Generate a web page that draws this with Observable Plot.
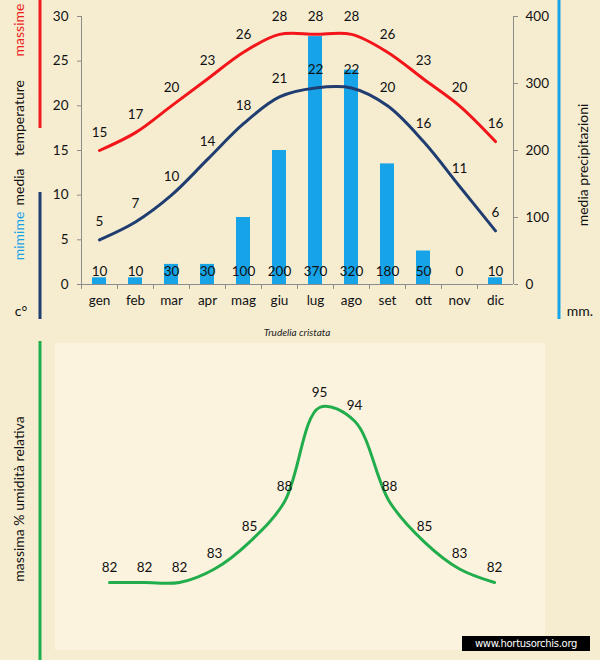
<!DOCTYPE html>
<html><head><meta charset="utf-8">
<script src="https://cdn.jsdelivr.net/npm/d3@7"></script>
<script src="https://cdn.jsdelivr.net/npm/@observablehq/plot@0.6"></script>
<style>
html,body{margin:0;padding:0;background:#f6edd1;}
#wrap{position:relative;width:600px;height:660px;background:#f6edd1;overflow:hidden;font-family:Lato,"Open Sans",sans-serif;}
.abs{position:absolute;left:0;}
</style></head>
<body><div id="wrap"></div>
<script>
const months = ["gen","feb","mar","apr","mag","giu","lug","ago","set","ott","nov","dic"];
const tempMax = [15,17,20,23,26,28,28,28,26,23,20,16];
const tempMin = [5,7,10,14,18,21,22,22,20,16,11,6];
const precip = [10,10,30,30,100,200,370,320,180,50,0,10];
const humidity = [82,82,82,83,85,88,95,94,88,85,83,82];
const tempTicks = [0,5,10,15,20,25,30];
const precipTicks = [0,100,200,300,400];
const title = "Trudelia cristata";

const k = 30/400; // precipitation -> temperature axis
const rows = months.map((m,i)=>({month:m, max:tempMax[i], min:tempMin[i], rain:precip[i], hum:humidity[i]}));
const axisGray = "#8c8c8c";
const wrap = document.getElementById("wrap");

// light inner panel for bottom chart
const panel = document.createElement("div");
panel.style.cssText = "position:absolute;left:55px;top:343px;width:490px;height:307px;background:#fcf3df;";
wrap.appendChild(panel);

const topChart = Plot.plot({
  width:600, height:320,
  marginLeft:81, marginRight:87, marginTop:16, marginBottom:36,
  style:{background:"transparent", fontFamily:"Lato, 'Open Sans', sans-serif", fontSize:"13px", color:"#111", overflow:"visible"},
  x:{type:"band", domain:months, paddingInner:0.6, paddingOuter:0.3},
  y:{domain:[0,30]},
  marks:[
    Plot.barY(rows,{x:"month", y:d=>d.rain*k, fill:"#17a3e8"}),
    Plot.text(rows,{x:"month", y:0, text:"rain", dy:-13, fill:"#111", fontSize:13.5}),
    Plot.line(rows,{x:"month", y:"max", stroke:"#f2151a", strokeWidth:3, curve:"catmull-rom"}),
    Plot.line(rows,{x:"month", y:"min", stroke:"#1f3d70", strokeWidth:3, curve:"catmull-rom"}),
    Plot.text(rows,{x:"month", y:"max", text:"max", dy:-18, fill:"#111", fontSize:13.5}),
    Plot.text(rows,{x:"month", y:"min", text:"min", dy:-18, fill:"#111", fontSize:13.5}),
    Plot.ruleY([0],{stroke:axisGray}),
    Plot.ruleX(["gen"],{dx:-18, y1:0, y2:30, stroke:axisGray}),
    Plot.ruleX(["dic"],{dx:18, y1:0, y2:30, stroke:axisGray}),
    Plot.ruleX(months,{x:d=>d, dx:-18, y1:0, y2:-0.55, stroke:axisGray}),
    Plot.axisY({anchor:"left", ticks:tempTicks, tickSize:4, tickPadding:9, stroke:axisGray, label:null, fontSize:13.5, fill:"#111"}),
    Plot.axisY({anchor:"right", ticks:precipTicks.map(v=>v*k), tickFormat:v=>String(Math.round(v/k)), tickSize:4, tickPadding:8, stroke:axisGray, label:null, fontSize:13.5, fill:"#111"}),
    Plot.axisX({tickSize:0, tickPadding:11, label:null, fontSize:13.5, fill:"#111"})
  ]
});
topChart.classList.add("abs");
topChart.style.top = "0px";
wrap.appendChild(topChart);

const botChart = Plot.plot({
  width:600, height:320,
  marginLeft:106, marginRight:104, marginTop:67, marginBottom:78,
  style:{background:"transparent", fontFamily:"Lato, 'Open Sans', sans-serif", fontSize:"13px", color:"#111", overflow:"visible"},
  x:{type:"point", domain:months, padding:0, axis:null},
  y:{domain:[82,95], axis:null},
  marks:[
    Plot.line(rows,{x:"month", y:"hum", stroke:"#22ad4c", strokeWidth:3, curve:"catmull-rom"}),
    Plot.text(rows,{x:"month", y:"hum", text:"hum", dy:-15, fill:"#111", fontSize:13.5})
  ]
});
botChart.classList.add("abs");
botChart.style.top = "340px";
wrap.appendChild(botChart);

// decorations overlay
const svg = d3.select(wrap).append("svg")
  .attr("width",600).attr("height",660)
  .style("position","absolute").style("left","0").style("top","0")
  .style("pointer-events","none")
  .style("font-family","Lato, 'Open Sans', sans-serif");

svg.append("line").attr("x1",40).attr("x2",40).attr("y1",0).attr("y2",128).attr("stroke","#ee1c1c").attr("stroke-width",3);
svg.append("line").attr("x1",40).attr("x2",40).attr("y1",192).attr("y2",319).attr("stroke","#1f3d70").attr("stroke-width",3);
svg.append("line").attr("x1",559).attr("x2",559).attr("y1",0).attr("y2",319).attr("stroke","#17a3e8").attr("stroke-width",3);
svg.append("line").attr("x1",40).attr("x2",40).attr("y1",341).attr("y2",660).attr("stroke","#1fae4f").attr("stroke-width",3);

function vtext(x,y,txt,color,size){
  svg.append("text").attr("transform",`translate(${x},${y}) rotate(-90)`)
    .attr("text-anchor","middle").attr("dominant-baseline","middle")
    .attr("fill",color).attr("font-size",size).text(txt);
}
vtext(20,30,"massime","#ee1c1c",14);
vtext(20,118,"temperature","#111",14);
vtext(20,187,"media","#111",14);
vtext(20,236,"mimime","#17a3e8",14);
svg.append("text").attr("x",21).attr("y",312).attr("text-anchor","middle").attr("dominant-baseline","middle").attr("fill","#111").attr("font-size",14).text("c°");
vtext(584,165,"media  precipitazioni","#111",14);
svg.append("text").attr("x",580).attr("y",312).attr("text-anchor","middle").attr("dominant-baseline","middle").attr("fill","#111").attr("font-size",14).text("mm.");
vtext(20,499,"massima  %  umidità relativa","#111",14);
svg.append("text").attr("x",297).attr("y",333).attr("text-anchor","middle").attr("dominant-baseline","middle")
  .attr("font-style","italic").attr("font-size",10).attr("fill","#222").text(title);
svg.append("rect").attr("x",462).attr("y",636).attr("width",128).attr("height",15).attr("fill","#000");
svg.append("text").attr("x",526).attr("y",644).attr("text-anchor","middle").attr("dominant-baseline","middle")
  .attr("font-family","'DejaVu Sans', sans-serif").attr("font-size",10).attr("letter-spacing","-0.3").attr("fill","#fff").text("www.hortusorchis.org");
</script>
</body></html>
